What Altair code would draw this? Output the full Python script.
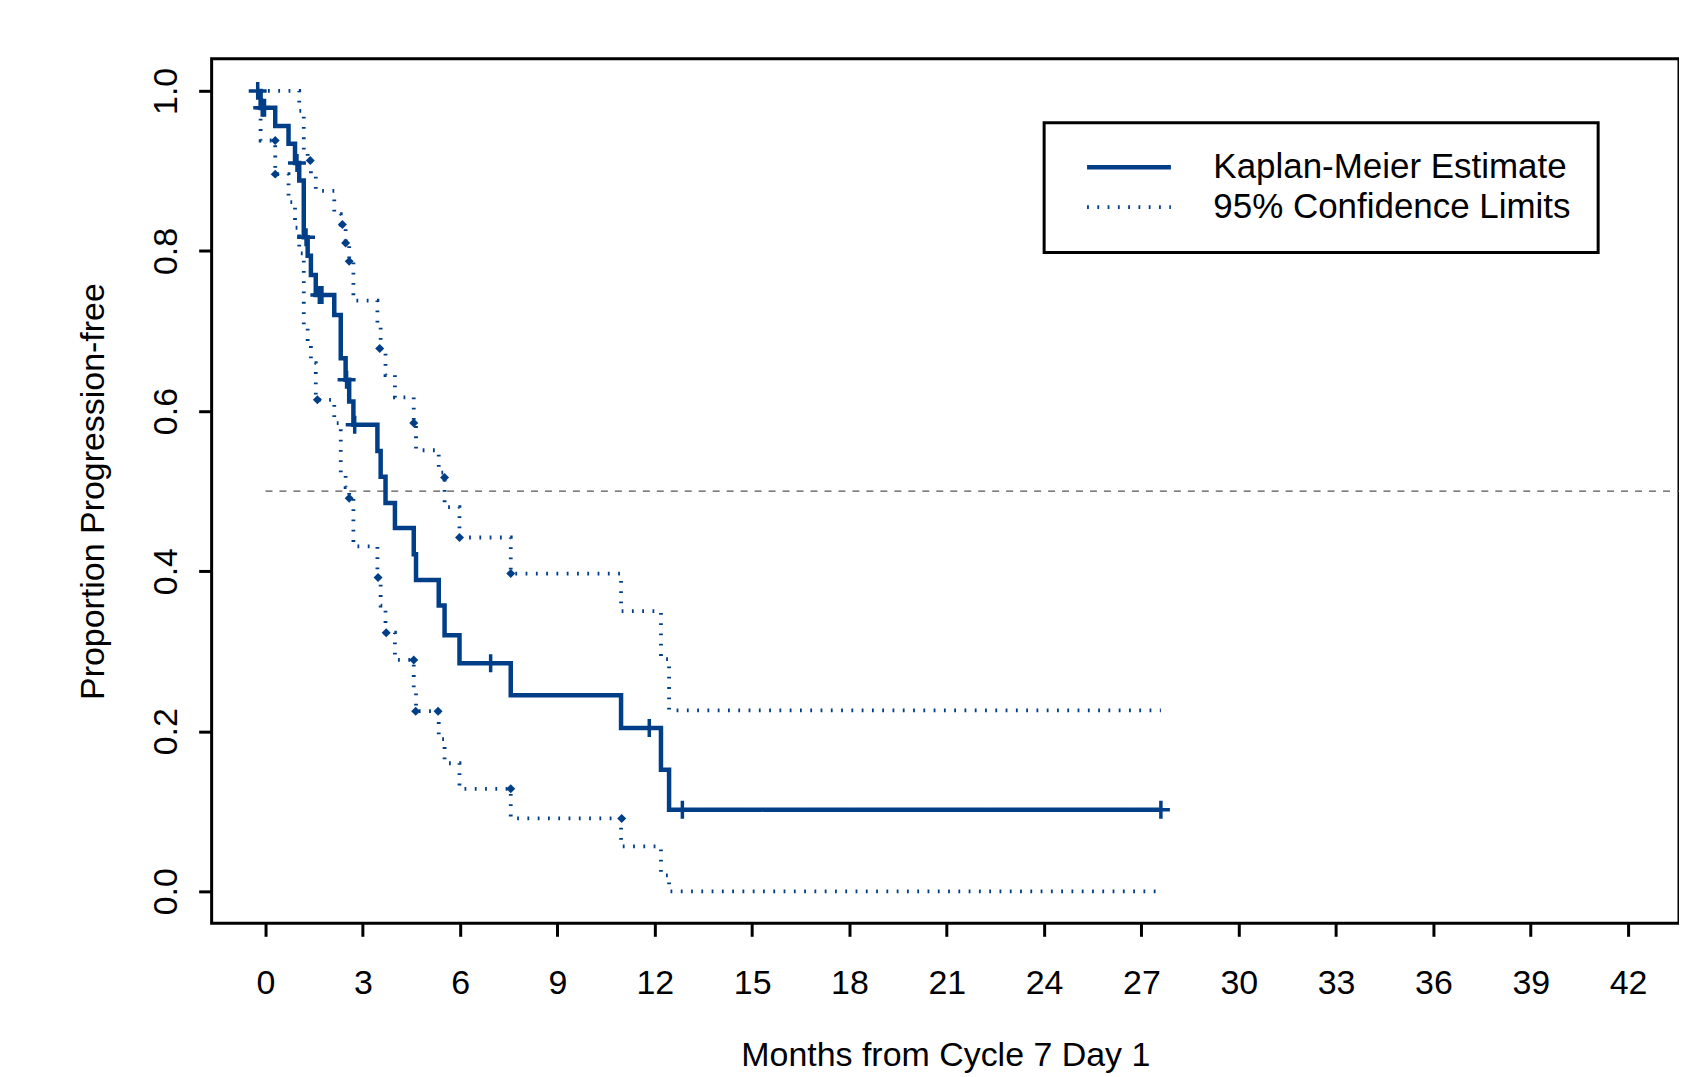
import altair as alt
import pandas as pd

FONT = "Liberation Sans"
BLUE = "#003F88"
KM_LABEL = "Kaplan-Meier Estimate"
CI_LABEL = "95% Confidence Limits"

# Kaplan-Meier step curve (time in months, proportion progression-free)
km_time = [-0.24, -0.15, 0.30, 0.71, 0.91, 1.04, 1.18, 1.30, 1.40, 1.55, 2.12, 2.32, 2.47, 2.58, 2.71,
           3.45, 3.55, 3.70, 3.99, 4.57, 4.64, 5.34, 5.52, 5.98, 7.56, 10.96, 12.19, 12.44, 27.6]
km_surv = [1.0, 0.979, 0.956, 0.934, 0.910, 0.888, 0.817, 0.794, 0.770, 0.745, 0.720, 0.666, 0.639, 0.612, 0.583,
           0.550, 0.518, 0.485, 0.454, 0.421, 0.389, 0.357, 0.320, 0.285, 0.245, 0.204, 0.152, 0.102, 0.102]

# Upper 95% confidence limit
upper_time = [-0.24, 1.04, 1.18, 1.30, 1.40, 1.55, 2.12, 2.32, 2.47, 2.58, 2.71, 3.45, 3.55, 3.70, 3.99,
              4.57, 4.64, 5.34, 5.52, 5.98, 7.56, 10.96, 12.19, 12.44, 27.6]
upper_surv = [1.0, 0.975, 0.925, 0.913, 0.895, 0.875, 0.846, 0.833, 0.810, 0.787, 0.738, 0.705, 0.672, 0.645, 0.617,
              0.585, 0.551, 0.523, 0.480, 0.442, 0.397, 0.350, 0.290, 0.226, 0.226]

# Lower 95% confidence limit
lower_time = [-0.24, -0.15, 0.30, 0.71, 0.91, 1.04, 1.18, 1.30, 1.40, 1.55, 2.12, 2.32, 2.47, 2.58, 2.71,
              3.45, 3.55, 3.70, 3.99, 4.57, 4.64, 5.34, 5.52, 5.98, 7.56, 10.96, 12.19, 12.44, 27.6]
lower_surv = [1.0, 0.938, 0.896, 0.861, 0.829, 0.797, 0.704, 0.684, 0.660, 0.614, 0.585, 0.523, 0.505, 0.491, 0.431,
              0.392, 0.357, 0.323, 0.289, 0.255, 0.225, 0.190, 0.160, 0.128, 0.091, 0.056, 0.020, 0.0, 0.0]

# Censoring marks (+) on the KM curve
censor_time = [-0.24, -0.10, -0.03, 0.97, 1.25, 1.66, 1.74, 2.50, 2.75, 6.94, 11.83, 12.85, 27.6]
censor_surv = [1.0, 0.979, 0.979, 0.910, 0.817, 0.745, 0.745, 0.639, 0.583, 0.285, 0.204, 0.102, 0.102]

# Diamond markers on the confidence limits
upper_pt_time = [1.38, 2.37, 2.47, 2.58, 3.52, 4.57, 5.52, 5.98, 7.56]
upper_pt_surv = [0.913, 0.833, 0.810, 0.787, 0.678, 0.585, 0.517, 0.442, 0.397]
lower_pt_time = [0.30, 0.30, 1.60, 2.58, 3.47, 3.72, 4.57, 4.63, 5.32, 7.56, 10.98]
lower_pt_surv = [0.938, 0.896, 0.614, 0.491, 0.392, 0.323, 0.289, 0.225, 0.225, 0.128, 0.091]

x_ticks = list(range(0, 43, 3))
y_ticks = [0.0, 0.2, 0.4, 0.6, 0.8, 1.0]
x_domain = [-1.66, 43.57]
y_domain = [-0.04, 1.04]
median_level = 0.5

lines = pd.concat([
    pd.DataFrame({"time": km_time, "surv": km_surv, "series": KM_LABEL, "curve": "km"}),
    pd.DataFrame({"time": upper_time, "surv": upper_surv, "series": CI_LABEL, "curve": "upper"}),
    pd.DataFrame({"time": lower_time, "surv": lower_surv, "series": CI_LABEL, "curve": "lower"}),
], ignore_index=True)
censor = pd.DataFrame({"time": censor_time, "surv": censor_surv})
diamonds = pd.DataFrame({"time": upper_pt_time + lower_pt_time, "surv": upper_pt_surv + lower_pt_surv})
ref = pd.DataFrame({"time": [0.0], "time_end": [x_domain[1]], "surv": [median_level]})

x_enc = alt.X(
    "time:Q",
    scale=alt.Scale(domain=x_domain, nice=False, zero=False),
    axis=alt.Axis(
        values=x_ticks, format="d", grid=False, domain=False,
        tickSize=13, tickWidth=3, tickColor="black",
        labelFont=FONT, labelFontSize=34, labelColor="black", labelPadding=30,
        labelFlush=False, labelOverlap=False,
        titleFont=FONT, titleFontSize=34, titleFontWeight="normal", titleColor="black",
        titleY=142, titleBaseline="alphabetic",
    ),
    title="Months from Cycle 7 Day 1",
)
y_enc = alt.Y(
    "surv:Q",
    scale=alt.Scale(domain=y_domain, nice=False, zero=False),
    axis=alt.Axis(
        values=y_ticks, format=".1f", grid=False, domain=False,
        tickSize=13, tickWidth=3, tickColor="black",
        labelFont=FONT, labelFontSize=34, labelColor="black",
        labelAngle=270, labelAlign="center", labelBaseline="alphabetic", labelPadding=22,
        labelOverlap=False,
        titleFont=FONT, titleFontSize=34, titleFontWeight="normal", titleColor="black",
        titleAngle=270, titleAlign="center", titleBaseline="alphabetic", titleX=-108,
    ),
    title="Proportion Progression-free",
)

rule = alt.Chart(ref).mark_rule(color="#555555", strokeDash=[7, 7], strokeWidth=1.3).encode(
    x=x_enc, x2="time_end:Q", y=y_enc
)

series_domain = [KM_LABEL, CI_LABEL]
curve_layer = alt.Chart(lines).mark_line(interpolate="step-after").encode(
    x=x_enc,
    y=y_enc,
    detail="curve:N",
    color=alt.Color("series:N", scale=alt.Scale(domain=series_domain, range=[BLUE, BLUE]),
                    legend=alt.Legend(title=None)),
    strokeDash=alt.StrokeDash("series:N", scale=alt.Scale(domain=series_domain, range=[[1, 0], [1.8, 8.5]]),
                              legend=alt.Legend(title=None)),
    strokeWidth=alt.StrokeWidth("series:N", scale=alt.Scale(domain=series_domain, range=[4.5, 3.8]),
                                legend=alt.Legend(title=None)),
)

diamond_layer = alt.Chart(diamonds).mark_point(
    shape="diamond", filled=True, size=81, color=BLUE, opacity=1
).encode(x=x_enc, y=y_enc)

censor_layer = alt.Chart(censor).mark_point(
    shape="M-1,0H1M0,-1V1", filled=False, size=324, strokeWidth=3.5, color=BLUE, opacity=1
).encode(x=x_enc, y=y_enc)

chart = alt.layer(rule, curve_layer, diamond_layer, censor_layer).properties(
    width=1470, height=866,
    padding={"left": 204, "top": 50, "right": 0, "bottom": 150},
    autosize=alt.AutoSizeParams(type="none"),
    background="white",
).configure_view(
    stroke="black", strokeWidth=3
).configure_legend(
    orient="none", legendX=834, legendY=64,
    padding=27, rowPadding=4,
    strokeColor="black", strokeWidth=3, fillColor="white",
    labelFont=FONT, labelFontSize=35, labelColor="black", labelLimit=700,
    symbolType="M-4,0H4", symbolSize=441, symbolOffset=40.5, labelOffset=67,
)

chart.save("out.html", embed_options={"renderer": "svg", "actions": False})
